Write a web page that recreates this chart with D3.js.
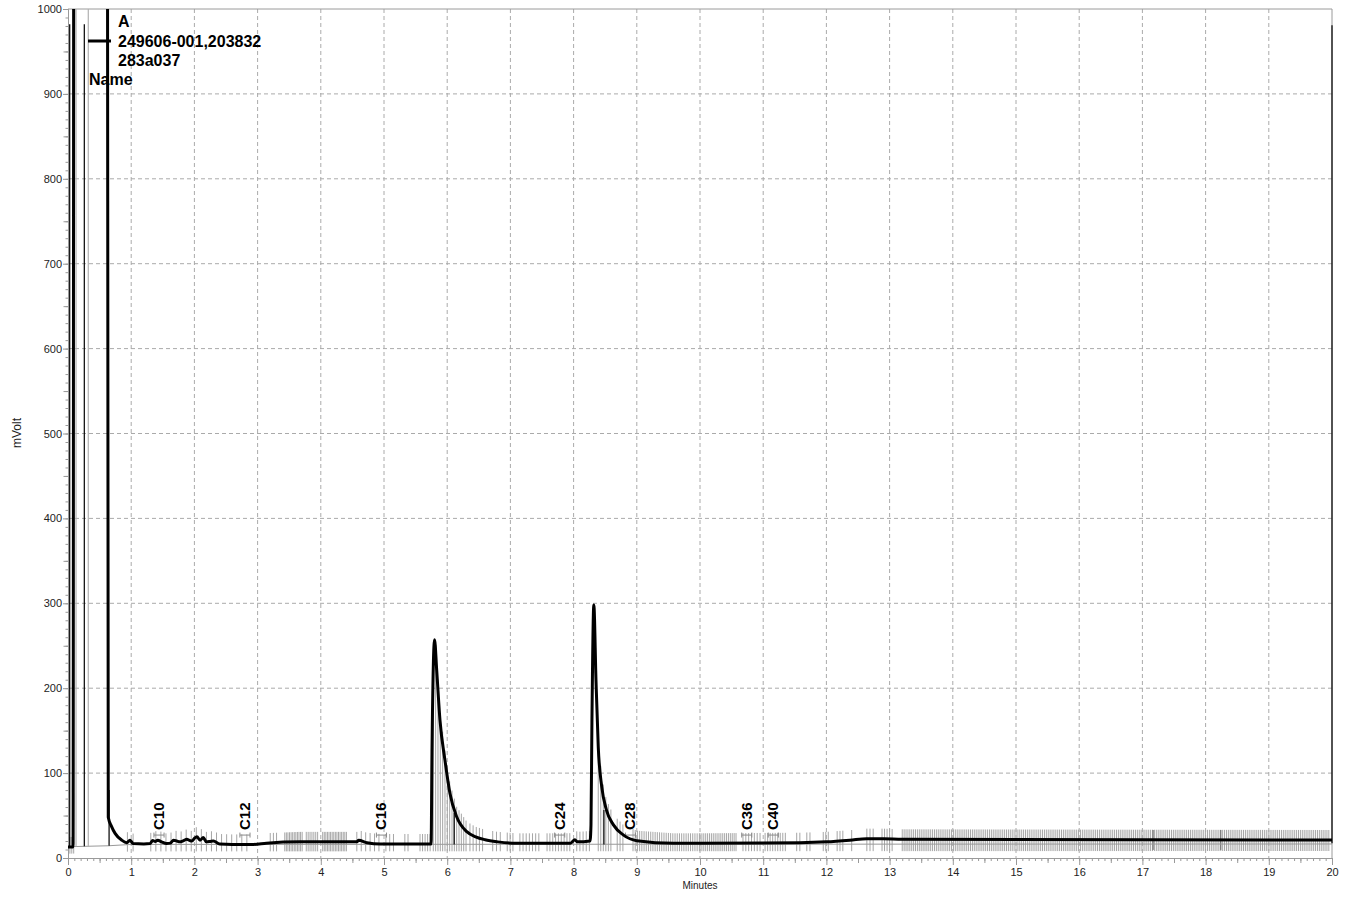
<!DOCTYPE html>
<html>
<head>
<meta charset="utf-8">
<script src="https://cdn.jsdelivr.net/npm/d3@7"></script>
<style>
  body { margin: 0; background: #fff; }
  svg { display: block; }
  text { font-family: "Liberation Sans", Arial, sans-serif; }
</style>
</head>
<body>
<svg id="chart" width="1349" height="898"></svg>
<script>
// ---- chromatogram data ----
// detector trace: [minutes, mVolt]
const trace = [
  [0, 13], [0.08, 13], [0.095, 1500], [0.62, 1500], [0.637, 48], [0.69, 37],
  [0.745, 29], [0.85, 21], [0.93, 18], [0.98, 21], [1.03, 17], [1.2, 16.5],
  [1.3, 17], [1.34, 20.5], [1.38, 19.5], [1.42, 21], [1.48, 19], [1.56, 17],
  [1.62, 17.5], [1.67, 21], [1.72, 20], [1.77, 19], [1.83, 20.5], [1.88, 22],
  [1.93, 20.5], [1.96, 20], [2.0, 23], [2.04, 25], [2.09, 21], [2.14, 24],
  [2.19, 19], [2.25, 19.5], [2.3, 20], [2.4, 16.5], [2.6, 16], [2.93, 16],
  [3.14, 17.5], [3.67, 19], [4.0, 19], [4.57, 19], [4.6, 21], [4.73, 18],
  [4.94, 16.5], [5.5, 16.5], [5.745, 16.5], [5.76, 130], [5.8, 257],
  [5.834, 221], [5.886, 162], [5.965, 115], [6.044, 76], [6.15, 48.6],
  [6.31, 31], [6.45, 25], [6.6, 21.5], [6.8, 19], [7.1, 17.3], [7.83, 17.3],
  [7.95, 17.5], [8.02, 21.5], [8.06, 19], [8.26, 20], [8.275, 39], [8.29, 160],
  [8.32, 298], [8.354, 210], [8.39, 131], [8.445, 84], [8.52, 56.5],
  [8.63, 39], [8.79, 27], [9.0, 20.4], [9.58, 17.3], [10, 17.3], [11.58, 18],
  [12.0, 19], [12.37, 21], [12.64, 22.8], [12.9, 22.8], [13.2, 22], [20, 21.2]
];

// integration baseline: [minutes, mVolt]
const baseline = [[0, 13.3], [0.64, 14.4], [1.0, 16], [20, 16.5]];

// peak identification labels and their retention times (minutes)
const peakNames = ["C10", "C12", "C16", "C24", "C28", "C36", "C40"];
const peakTimes = [1.44, 2.8, 4.96, 7.78, 8.9, 10.74, 11.16];

// drop lines: [minutes, top mVolt, bottom mVolt]
const blackDrops = [
  [0.027, 982, 13.3], [0.258, 982, 13.8], [0.65, 80, 14.4],
  [6.11, 53, 16], [8.48, 56.5, 16], [20, 981, 17.5]
];
const grayDrops = [[0.127, 1000, 13.5], [0.321, 1000, 13.8]];
const darkEvents = [[17.17, 33, 9.5], [18.24, 33, 9.5]];

// integration event windows: [start min, end min, spacing min]
const eventBands = [
  [0.03, 0.09, 0.03], [0.94, 1.03, 0.09], [1.31, 2.85, 0.08],
  [3.2, 3.3, 0.05], [3.43, 3.72, 0.025], [3.77, 3.96, 0.03],
  [4.03, 4.42, 0.025], [4.57, 4.94, 0.07], [5.03, 5.2, 0.06],
  [5.33, 5.38, 0.05], [5.57, 5.73, 0.04], [5.78, 6.31, 0.037],
  [6.36, 6.57, 0.05], [6.72, 6.84, 0.06], [6.95, 7.04, 0.045],
  [7.15, 7.47, 0.05], [7.58, 7.94, 0.045], [8.05, 8.26, 0.05],
  [8.39, 8.62, 0.04], [8.69, 8.78, 0.045], [8.94, 10.0, 0.035],
  [10.0, 10.59, 0.03], [10.68, 10.95, 0.045], [11.03, 11.38, 0.04],
  [11.53, 11.58, 0.05], [11.69, 11.74, 0.05], [11.95, 12.03, 0.04],
  [12.17, 12.26, 0.045], [12.4, 12.4, 0.05], [12.64, 12.74, 0.05],
  [12.88, 13.05, 0.04], [13.2, 19.97, 0.03]
];

// axes
const xTicks = d3.range(0, 21, 1);
const yTicks = d3.range(0, 1001, 100);
const xTitle = "Minutes";
const yTitle = "mVolt";

// legend
const legendKey = "A";
const legendLines = ["249606-001,203832", "283a037"];
const legendTitle = "Name";

// ---- layout ----
const svg = d3.select("#chart");
const plotLeft = 68, plotRight = 1332, plotTop = 9, plotBottom = 858;
const x = d3.scaleLinear().domain([0, 20]).range([plotLeft, plotRight]);
const y = d3.scaleLinear().domain([0, 1000]).range([plotBottom, plotTop]);
const axisGray = "#9a9a9a";

// value lookup along a polyline
function interp(points, t) {
  const i = d3.bisector(d => d[0]).right(points, t);
  if (i <= 0) return points[0][1];
  if (i >= points.length) return points[points.length - 1][1];
  const a = points[i - 1], b = points[i];
  return a[1] + (b[1] - a[1]) * (t - a[0]) / (b[0] - a[0]);
}

// grid
const grid = svg.append("g").attr("stroke", "#aaaaaa").attr("stroke-dasharray", "4,3");
grid.selectAll("line.v").data(xTicks.slice(1, -1)).join("line").attr("class", "v")
  .attr("x1", d => x(d)).attr("x2", d => x(d)).attr("y1", plotTop).attr("y2", plotBottom);
grid.selectAll("line.h").data(yTicks.slice(1, -1)).join("line").attr("class", "h")
  .attr("x1", plotLeft).attr("x2", plotRight).attr("y1", d => y(d)).attr("y2", d => y(d));

// frame top and right
svg.append("path")
  .attr("d", `M${plotLeft},${plotTop}H${plotRight}V${plotBottom}`)
  .attr("fill", "none").attr("stroke", axisGray);

// axes: minor, mid and major ticks
function styleAxis(g) {
  g.select(".domain").attr("stroke", axisGray);
  g.selectAll(".tick line").attr("stroke", axisGray);
  g.selectAll(".tick text").attr("fill", "#222").attr("font-size", 11)
    .attr("font-family", "'Liberation Sans', Arial, sans-serif");
}
svg.append("g").attr("transform", `translate(0,${plotBottom})`)
  .call(d3.axisBottom(x).tickValues(d3.range(0, 200.5, 1).map(d => d / 10)).tickSize(3).tickFormat(""))
  .call(styleAxis);
svg.append("g").attr("transform", `translate(0,${plotBottom})`)
  .call(d3.axisBottom(x).tickValues(d3.range(0.5, 20, 1)).tickSize(5).tickFormat(""))
  .call(styleAxis);
svg.append("g").attr("transform", `translate(0,${plotBottom})`)
  .call(d3.axisBottom(x).tickValues(xTicks).tickSize(7).tickPadding(3).tickFormat(d3.format("d")))
  .call(styleAxis);

svg.append("g").attr("transform", `translate(${plotLeft},0)`)
  .call(d3.axisLeft(y).tickValues(d3.range(0, 1001, 10)).tickSize(2.5).tickFormat(""))
  .call(styleAxis);
svg.append("g").attr("transform", `translate(${plotLeft},0)`)
  .call(d3.axisLeft(y).tickValues(d3.range(50, 1000, 100)).tickSize(4.5).tickFormat(""))
  .call(styleAxis);
svg.append("g").attr("transform", `translate(${plotLeft},0)`)
  .call(d3.axisLeft(y).tickValues(yTicks).tickSize(5).tickPadding(1).tickFormat(d3.format("d")))
  .call(styleAxis);

// axis titles
svg.append("text").attr("x", (plotLeft + plotRight) / 2).attr("y", 889)
  .attr("text-anchor", "middle").attr("font-size", 10).attr("fill", "#222").text(xTitle);
svg.append("text").attr("transform", `translate(21,433) rotate(-90)`)
  .attr("text-anchor", "middle").attr("font-size", 12).attr("fill", "#222").text(yTitle);

// plot clip
svg.append("clipPath").attr("id", "plot-clip").append("rect")
  .attr("x", plotLeft).attr("y", plotTop)
  .attr("width", plotRight - plotLeft + 2).attr("height", plotBottom - plotTop);
const plot = svg.append("g").attr("clip-path", "url(#plot-clip)");

// integration event marks
const events = eventBands.flatMap(([a, b, s]) =>
  d3.range(a, b + s / 2, s).filter(t => t <= b + 1e-9));
plot.append("g").attr("stroke", "#a6a6a6").attr("stroke-width", 1)
  .selectAll("line").data(events).join("line")
  .attr("x1", d => x(d)).attr("x2", d => x(d))
  .attr("y1", d => y(interp(trace, d)) - 10)
  .attr("y2", d => y(interp(baseline, d)) + 7);
plot.append("g").attr("stroke", "#6a6a6a").attr("stroke-width", 1)
  .selectAll("line").data(darkEvents).join("line")
  .attr("x1", d => x(d[0])).attr("x2", d => x(d[0]))
  .attr("y1", d => y(d[1])).attr("y2", d => y(d[2]));

// baseline
plot.append("path").datum(baseline)
  .attr("d", d3.line().x(d => x(d[0])).y(d => y(d[1])))
  .attr("fill", "none").attr("stroke", "#999").attr("stroke-width", 1);

// drop lines
plot.append("g").attr("stroke", "#b0b0b0").attr("stroke-width", 1.2)
  .selectAll("line").data(grayDrops).join("line")
  .attr("x1", d => x(d[0])).attr("x2", d => x(d[0]))
  .attr("y1", d => y(d[1])).attr("y2", d => y(d[2]));
plot.append("g").attr("stroke", "#000").attr("stroke-width", 1.2)
  .selectAll("line").data(blackDrops).join("line")
  .attr("x1", d => x(d[0])).attr("x2", d => x(d[0]))
  .attr("y1", d => y(d[1])).attr("y2", d => y(d[2]));

// retention window markers
const win = plot.append("g").attr("stroke", "#8a8a8a").attr("stroke-width", 1);
peakTimes.forEach(t => {
  const yy = y(27), x0 = x(t - 0.08), x1 = x(t + 0.08);
  win.append("path").attr("fill", "none")
    .attr("d", `M${x0},${yy - 2.5}V${yy + 2.5}M${x0},${yy}H${x1}M${x1},${yy - 2.5}V${yy + 2.5}`);
});

// detector trace
plot.append("path").datum(trace)
  .attr("d", d3.line().x(d => x(d[0])).y(d => y(d[1])).curve(d3.curveMonotoneX))
  .attr("fill", "none").attr("stroke", "#000").attr("stroke-width", 3)
  .attr("stroke-linejoin", "round");

// peak labels
svg.append("g").selectAll("text").data(peakNames).join("text")
  .attr("transform", (d, i) => `translate(${x(peakTimes[i]) + 5},${y(33)}) rotate(-90)`)
  .attr("font-size", 15).attr("font-weight", "bold").attr("fill", "#000")
  .text(d => d);

// legend
const lg = svg.append("g").attr("font-size", 16).attr("font-weight", "bold").attr("fill", "#000");
lg.append("text").attr("x", 118).attr("y", 27).text(legendKey);
legendLines.forEach((s, i) => lg.append("text").attr("x", 118).attr("y", 46.5 + i * 19).text(s));
lg.append("text").attr("x", 89).attr("y", 84.5).text(legendTitle);
svg.append("line").attr("x1", 88).attr("x2", 111).attr("y1", 41).attr("y2", 41)
  .attr("stroke", "#000").attr("stroke-width", 3);
</script>
</body>
</html>
